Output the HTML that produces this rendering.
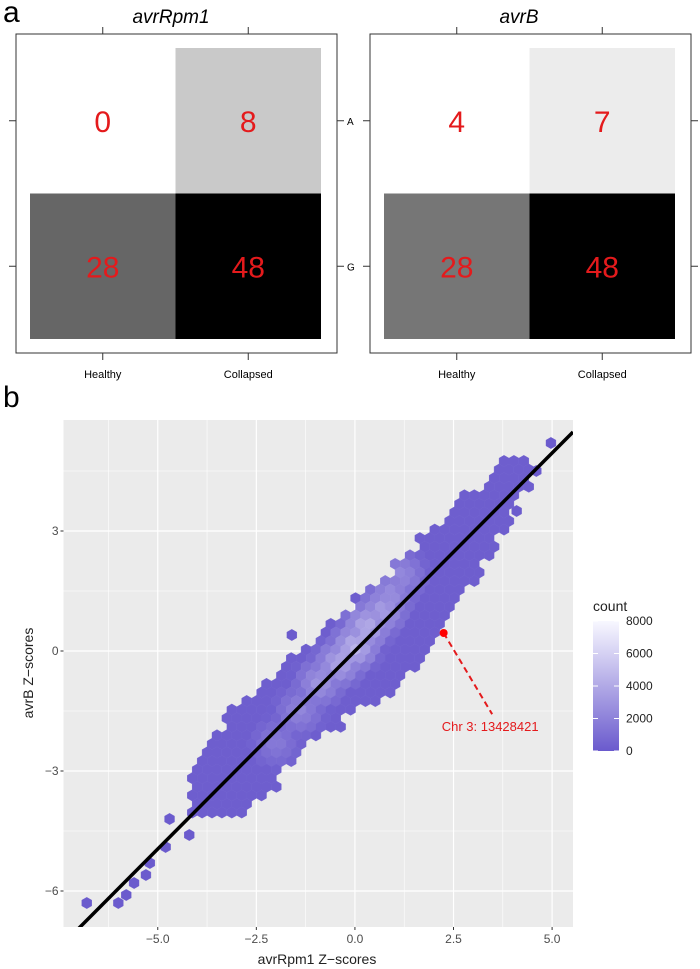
<!DOCTYPE html>
<html><head><meta charset="utf-8"><style>
html,body{margin:0;padding:0;background:#fff;}
svg{display:block;font-family:"Liberation Sans",sans-serif;}
</style></head><body>
<svg id="fig" width="700" height="969" viewBox="0 0 700 969">
<defs><clipPath id="plotclip"><rect x="63.5" y="420" width="509.5" height="507"/></clipPath></defs>
<text x="3" y="22" font-size="30">a</text>
<text x="3" y="407" font-size="30">b</text>
<g id="pa"></g>
<g id="pb"></g>
</svg>
<script>
const NS="http://www.w3.org/2000/svg";
function mk(tag,attrs,parent,text){const e=document.createElementNS(NS,tag);for(const k in attrs)e.setAttribute(k,attrs[k]);if(text!==undefined)e.textContent=text;parent.appendChild(e);return e;}

// ---------- Panel a data ----------
const panelTitles=["avrRpm1","avrB"];
const colLabels=["Healthy","Collapsed"];
const rowLabels=["A","G"];
const countsRpm1=[[0,8],[28,48]];
const countsAvrB=[[4,7],[28,48]];
const shadesRpm1=["#ffffff","#c9c9c9","#666666","#000000"];
const shadesAvrB=["#ffffff","#ececec","#767676","#000000"];

const pa=document.getElementById('pa');
const panelsA=[{x0:16,cx:30,counts:countsRpm1,shades:shadesRpm1},{x0:370,cx:384,counts:countsAvrB,shades:shadesAvrB}];
panelsA.forEach((p,pi)=>{
  const g=mk('g',{},pa);
  
  
  const box=mk('rect',{x:p.x0,y:34,width:321,height:319,fill:'none',stroke:'#333','stroke-width':1},g);
  
  const t=mk('text',{x:p.x0+(pi===0?155:149),y:23,'font-size':19,'font-style':'italic','text-anchor':'middle'},g,panelTitles[pi]);
  
  const cw=145.5,ch=145.5;
  for(let r=0;r<2;r++)for(let c=0;c<2;c++){
    const x=p.cx+c*cw,y=48+r*ch;
    const cell=mk('rect',{x:x,y:y,width:cw,height:ch,fill:p.shades[r*2+c]},g);
    
    
    const tx=mk('text',{x:x+cw/2,y:y+ch/2+11,'font-size':30,fill:'#e41a1c','text-anchor':'middle'},g,String(p.counts[r][c]));
    
  }
  for(let c=0;c<2;c++){
    const xc=p.cx+c*cw+cw/2;
    mk('line',{x1:xc,x2:xc,y1:27,y2:34,stroke:'#333'},g);
    mk('line',{x1:xc,x2:xc,y1:353,y2:360,stroke:'#333'},g);
    const l=mk('text',{x:xc,y:378,'font-size':11,'text-anchor':'middle'},g,colLabels[c]);
    
  }
  for(let r=0;r<2;r++){
    const yc=48+r*ch+ch/2;
    mk('line',{x1:p.x0-7,x2:p.x0,y1:yc,y2:yc,stroke:'#333'},g);
    mk('line',{x1:p.x0+321,x2:p.x0+328,y1:yc,y2:yc,stroke:'#333'},g);
    if(pi===0){const l=mk('text',{x:p.x0+331,y:yc+4,'font-size':10},g,rowLabels[r]);
      }
  }
});

// ---------- Panel b data ----------
const xTicks=[-5,-2.5,0,2.5,5];
const xTickLabels=["\u22125.0","\u22122.5","0.0","2.5","5.0"];
const yTicks=[3,0,-3,-6];
const yTickLabels=["3","0","\u22123","\u22126"];
// hexbin cloud: rows [y, xmin, xmax]
const cloudRows=[[4.75,3.7,4.3],[4.5,3.5,4.6],[4.2,3.4,4.4],[3.9,2.7,4.0],[3.6,2.5,3.9],[3.3,2.2,3.9],[3.0,1.9,3.8],[2.7,1.6,3.6],[2.4,1.3,3.4],[2.1,1.0,3.2],[1.8,0.8,3.0],[1.5,0.4,2.8],[1.2,0.0,2.6],[0.9,-0.3,2.3],[0.6,-0.7,2.1],[0.3,-1.0,2.0],[0.0,-1.3,1.8],[-0.3,-1.7,1.6],[-0.6,-2.0,1.3],[-0.9,-2.4,1.0],[-1.2,-2.8,0.5],[-1.5,-3.1,0.0],[-1.8,-3.3,-0.4],[-2.1,-3.5,-0.8],[-2.4,-3.7,-1.3],[-2.7,-3.9,-1.6],[-3.0,-4.1,-1.8],[-3.3,-4.2,-2.0],[-3.6,-4.3,-2.4],[-3.9,-4.2,-2.7],[-4.2,-4.0,-3.3]];
const outlierX=[4.97,4.1,4.6,-1.6,-4.7,-4.2,-4.8,-5.2,-5.3,-5.6,-5.8,-6.8,-6.0];
const outlierY=[5.2,3.5,4.5,0.4,-4.2,-4.6,-4.9,-5.3,-5.6,-5.8,-6.1,-6.3,-6.3];
const peakX=[0.3,0.0,-0.4,0.7,-0.9,1.2,-1.4,-2.0,0.9];
const peakY=[0.6,0.1,-0.3,1.0,-0.8,1.9,-1.5,-2.3,1.4];
const peakCount=[4600,5000,4200,3800,3300,2600,2400,1800,3000];
const baseCount=200;
const lineSlope=0.99, lineIntercept=0.0;
const highlightX=2.25, highlightY=0.45;
const labelX=3.48, labelY=-1.58;
const legendTicks=[0,2000,4000,6000,8000];

const PX0=63.5,PX1=573,PY0=420,PY1=927;
const xmin=-7.39,xmax=5.53,ymin=-6.9,ymax=5.775;
const sx=v=>PX0+(v-xmin)/(xmax-xmin)*(PX1-PX0);
const sy=v=>PY1-(v-ymin)/(ymax-ymin)*(PY1-PY0);
const pb=document.getElementById('pb');
const bg=mk('rect',{x:PX0,y:PY0,width:PX1-PX0,height:PY1-PY0,fill:'#ebebeb'},pb);

[-6.25,-3.75,-1.25,1.25,3.75].forEach(m=>mk('line',{x1:sx(m),x2:sx(m),y1:PY0,y2:PY1,stroke:'#fff','stroke-width':0.6},pb));
[4.5,1.5,-1.5,-4.5].forEach(m=>mk('line',{x1:PX0,x2:PX1,y1:sy(m),y2:sy(m),stroke:'#fff','stroke-width':0.6},pb));
xTicks.forEach((v,i)=>{
  const gl=mk('line',{x1:sx(v),x2:sx(v),y1:PY0,y2:PY1,stroke:'#fff','stroke-width':1.2},pb);
  
  mk('line',{x1:sx(v),x2:sx(v),y1:PY1,y2:PY1+3,stroke:'#333'},pb);
  const t=mk('text',{x:sx(v),y:PY1+16,'font-size':12,fill:'#4d4d4d','text-anchor':'middle'},pb,xTickLabels[i]);
  
});
yTicks.forEach((v,i)=>{
  const gl=mk('line',{x1:PX0,x2:PX1,y1:sy(v),y2:sy(v),stroke:'#fff','stroke-width':1.2},pb);
  
  mk('line',{x1:PX0-3,x2:PX0,y1:sy(v),y2:sy(v),stroke:'#333'},pb);
  const t=mk('text',{x:PX0-5,y:sy(v)+4,'font-size':12,fill:'#4d4d4d','text-anchor':'end'},pb,yTickLabels[i]);
  
});
const layer=mk('g',{'clip-path':'url(#plotclip)'},pb);


// hexes
const c0=[106,90,205],c1=[248,248,255];
function col(n){const f=Math.max(0,Math.min(1,n/8000));return 'rgb('+c0.map((a,i)=>Math.round(a+(c1[i]-a)*f)).join(',')+')';}
const w=9.9,hh=w/Math.sqrt(3);
function hex(cx,cy,n){
  const pts=[];for(let k=0;k<6;k++){const a=Math.PI/3*k+Math.PI/6;pts.push((cx+hh*Math.cos(a)).toFixed(1)+','+(cy+hh*Math.sin(a)).toFixed(1));}
  const h=mk('polygon',{points:pts.join(' '),fill:col(n),stroke:col(n+150),'stroke-width':0.4},layer);
  
}
const dyPx=hh*1.5;
const yTopPx=sy(cloudRows[0][0]);
const yBotPx=sy(cloudRows[cloudRows.length-1][0]);
let ri=0;
for(let py=yTopPx;py<=yBotPx+0.1;py+=dyPx,ri++){
  const yv=ymin+(PY1-py)/(PY1-PY0)*(ymax-ymin);
  let best=cloudRows[0];cloudRows.forEach(r=>{if(Math.abs(r[0]-yv)<Math.abs(best[0]-yv))best=r;});
  const off=(ri%2)*w/2;
  for(let px=PX0+off+w/2;px<PX1;px+=w){
    const xv=xmin+(px-PX0)/(PX1-PX0)*(xmax-xmin);
    if(xv<best[1]-0.05||xv>best[2]+0.05)continue;
    let n=baseCount;
    for(let k=0;k<peakX.length;k++){const d=Math.hypot(xv-peakX[k],yv-peakY[k]);if(d<0.8)n=Math.max(n,peakCount[k]*(1-d/0.8));}
    hex(px,py,n);
  }
}
outlierX.forEach((x,i)=>hex(sx(x),sy(outlierY[i]),50));
// regression line
const ln=mk('line',{x1:sx(xmin),y1:sy(lineSlope*xmin+lineIntercept),x2:sx(xmax),y2:sy(lineSlope*xmax+lineIntercept),stroke:'#000','stroke-width':3.5},layer);

// annotation
const dl=mk('line',{x1:sx(highlightX),y1:sy(highlightY),x2:sx(labelX),y2:sy(labelY),stroke:'#e41a1c','stroke-width':2,'stroke-dasharray':'6,4'},pb);

const dot=mk('circle',{cx:sx(highlightX),cy:sy(highlightY),r:4,fill:'#ff0000'},pb);

const at=mk('text',{x:sx(labelX)-2,y:sy(labelY)+17,'font-size':13,fill:'#e41a1c','text-anchor':'middle'},pb,'Chr 3: 13428421');

// axis titles
const xt=mk('text',{x:317,y:964,'font-size':14,fill:'#222','text-anchor':'middle'},pb,'avrRpm1 Z\u2212scores');

const yt=mk('text',{x:0,y:0,'font-size':14,fill:'#222','text-anchor':'middle',transform:'translate(33,673) rotate(-90)'},pb,'avrB Z\u2212scores');

// legend
const lg=mk('g',{},pb);

const defs=mk('defs',{},lg);
const grad=mk('linearGradient',{id:'cg',x1:0,y1:1,x2:0,y2:0},defs);
legendTicks.forEach(v=>mk('stop',{offset:v/8000,'stop-color':col(v)},grad));
mk('text',{x:593,y:611,'font-size':14,fill:'#222'},lg,'count');
const LB0=621,LB1=751;
mk('rect',{x:593,y:LB0,width:26,height:LB1-LB0,fill:'url(#cg)'},lg);
const ly=v=>LB1-v/8000*(LB1-LB0);
legendTicks.forEach(v=>{
  mk('line',{x1:593,x2:598,y1:ly(v),y2:ly(v),stroke:'#fff'},lg);
  mk('line',{x1:614,x2:619,y1:ly(v),y2:ly(v),stroke:'#fff'},lg);
  const t=mk('text',{x:626,y:ly(v)+4,'font-size':12,fill:'#222'},lg,String(v));
  
});
</script>
</body></html>
